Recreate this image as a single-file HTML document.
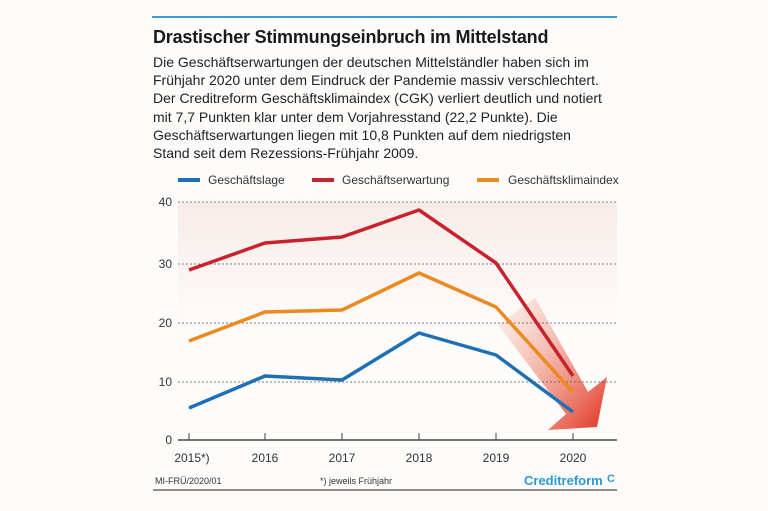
<!DOCTYPE html><html><head><meta charset="utf-8"><style>
body{margin:0;background:#fff;font-family:"Liberation Sans",sans-serif;}
.w{position:relative;width:768px;height:511px;background:#fdfcfb;}
.t{position:absolute;left:153px;top:27px;font-size:18px;font-weight:bold;color:#1a1a1a;letter-spacing:-0.2px}
.p{position:absolute;left:153px;top:53px;font-size:14px;line-height:18.2px;color:#222;width:480px;white-space:nowrap}
</style></head><body><div class="w">
<div style="position:absolute;left:152px;top:16px;width:465px;height:2px;background:#3a9ad9"></div>
<div class="t">Drastischer Stimmungseinbruch im Mittelstand</div>
<div class="p">Die Geschäftserwartungen der deutschen Mittelständler haben sich im<br>Frühjahr 2020 unter dem Eindruck der Pandemie massiv verschlechtert.<br>Der Creditreform Geschäftsklimaindex (CGK) verliert deutlich und notiert<br>mit 7,7 Punkten klar unter dem Vorjahresstand (22,2 Punkte). Die<br>Geschäftserwartungen liegen mit 10,8 Punkten auf dem niedrigsten<br>Stand seit dem Rezessions-Frühjahr 2009.</div>
<svg width="768" height="511" style="position:absolute;left:0;top:0" font-family="Liberation Sans,sans-serif">
<defs><linearGradient id="bg" x1="0" y1="0" x2="0" y2="1"><stop offset="0" stop-color="#f7ece8"/><stop offset="1" stop-color="#fdfcfb"/></linearGradient>
<linearGradient id="ar" x1="0" y1="0" x2="1" y2="1"><stop offset="0" stop-color="#f6c4b0" stop-opacity="0.2"/><stop offset="1" stop-color="#e0301e"/></linearGradient></defs>
<rect x="178" y="202" width="439" height="130" fill="url(#bg)"/>
<polygon points="498,325 535,298 588,392 607,377 597,427 548,430 566,414" fill="url(#ar)"/>
<g stroke="#555" stroke-dasharray="2,2" stroke-width="0.8"><line x1="178" y1="202" x2="617" y2="202"/><line x1="178" y1="264" x2="617" y2="264"/><line x1="178" y1="323" x2="617" y2="323"/><line x1="178" y1="382" x2="617" y2="382"/></g>
<line x1="178" y1="440" x2="617" y2="440" stroke="#222" stroke-width="1.2"/>
<g stroke="#444"><line x1="189" y1="433" x2="189" y2="440"/><line x1="265" y1="433" x2="265" y2="440"/><line x1="342" y1="433" x2="342" y2="440"/><line x1="419" y1="433" x2="419" y2="440"/><line x1="496" y1="433" x2="496" y2="440"/><line x1="573" y1="433" x2="573" y2="440"/></g>
<g font-size="12" fill="#333" text-anchor="end"><text x="172" y="206">40</text><text x="172" y="268">30</text><text x="172" y="327">20</text><text x="172" y="386">10</text><text x="172" y="444">0</text></g>
<g font-size="12" fill="#333" text-anchor="middle"><text x="192" y="462">2015*)</text><text x="265" y="462">2016</text><text x="342" y="462">2017</text><text x="419" y="462">2018</text><text x="496" y="462">2019</text><text x="573" y="462">2020</text></g>
<g fill="none" stroke-width="3.5" stroke-linejoin="round">
<polyline stroke="#c8232c" points="189,270 265,243 342,237 419,210 496,263 573,376"/>
<polyline stroke="#eb8a1f" points="189,341 265,312 342,310 419,273 496,307 573,392"/>
<polyline stroke="#1f6fb5" points="189,408 265,376 342,380 419,333 496,355 573,412"/>
</g>
<g stroke-width="4"><line x1="178" y1="180" x2="200" y2="180" stroke="#1f6fb5"/><line x1="312" y1="180" x2="334" y2="180" stroke="#c8232c"/><line x1="477" y1="180" x2="499" y2="180" stroke="#eb8a1f"/></g>
<g font-size="12" fill="#333"><text x="208" y="184">Geschäftslage</text><text x="342" y="184">Geschäftserwartung</text><text x="508" y="184">Geschäftsklimaindex</text></g>
<text x="155" y="484" font-size="9" fill="#333">MI-FRÜ/2020/01</text>
<text x="320" y="484" font-size="9" fill="#333">*) jeweils Frühjahr</text>
<text x="524" y="485" font-size="13" font-weight="bold" fill="#2a9ad6">Creditreform</text>
<text x="607" y="482" font-size="11" font-weight="bold" fill="#2a9ad6">C</text>
<line x1="153" y1="490" x2="617" y2="490" stroke="#222" stroke-width="1"/>
</svg></div></body></html>
